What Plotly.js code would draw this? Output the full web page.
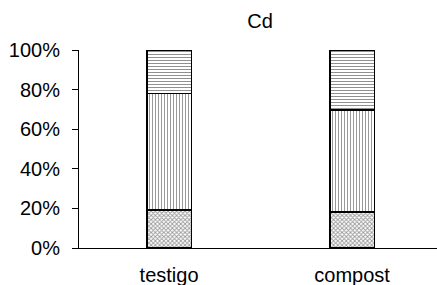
<!DOCTYPE html>
<html><head><meta charset="utf-8">
<script src="https://cdn.plot.ly/plotly-3.0.1.min.js"></script>
<style>body{margin:0;background:#fff}#c{width:437px;height:285px}</style>
</head><body><div id="c"></div>
<script>
const categories = ["testigo", "compost"];
const seriesBottom = [19, 18];
const seriesMiddle = [59, 51.5];
const seriesTop = [22, 30.5];
const yTickVals = [0, 20, 40, 60, 80, 100];
const yTickText = ["0%", "20%", "40%", "60%", "80%", "100%"];

function tr(vals, shape, size, solidity, fg) {
  return {
    type: "bar", x: categories, y: vals, width: 0.245,
    marker: {
      color: "#fff",
      line: {color: "#000", width: 1.8},
      pattern: {shape: shape, size: size, solidity: solidity, fgcolor: fg, bgcolor: "#fff", fillmode: "overlay"}
    },
    hoverinfo: "skip"
  };
}
const data = [
  tr(seriesBottom, "x", 3, 0.5, "#333"),
  tr(seriesMiddle, "|", 3, 0.35, "#333"),
  tr(seriesTop, "-", 3, 0.35, "#222")
];
const layout = {
  width: 437, height: 285,
  margin: {l: 79, r: 0, t: 50, b: 37},
  barmode: "stack", showlegend: false,
  paper_bgcolor: "#fff", plot_bgcolor: "#fff",
  font: {family: "Liberation Sans, Arial, sans-serif", size: 20, color: "#000"},
  title: {text: "Cd", x: 0.595, xanchor: "center", y: 0.925, yanchor: "middle", font: {size: 20}},
  xaxis: {range: [-0.492, 1.464], showline: true, linecolor: "#000", linewidth: 1, ticks: "", showgrid: false, zeroline: false,
          ticklabelstandoff: 9, tickfont: {size: 20}},
  yaxis: {range: [0, 100], tickvals: yTickVals, ticktext: yTickText, showline: true, linecolor: "#000",
          linewidth: 1, ticks: "outside", ticklen: 6, tickcolor: "#000", showgrid: false, zeroline: false,
          ticklabelstandoff: 8, tickfont: {size: 20}}
};
Plotly.newPlot("c", data, layout, {staticPlot: true});
</script></body></html>
